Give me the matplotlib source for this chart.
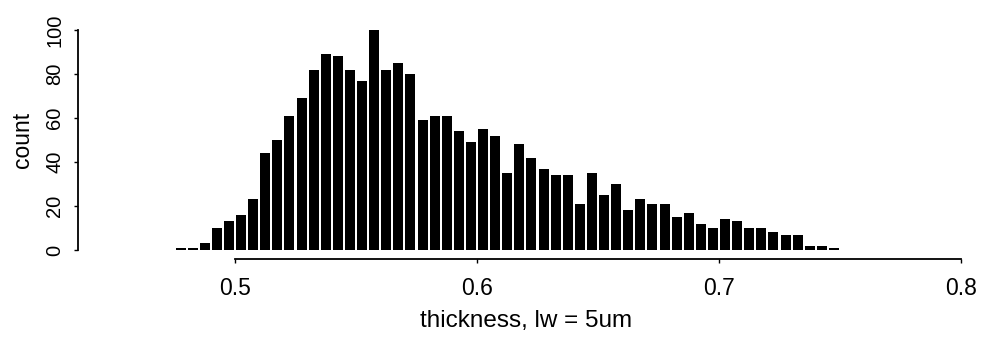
import matplotlib
matplotlib.use("Agg")
import matplotlib.pyplot as plt

# histogram of thickness, bins 0.005 wide (bin centres)
bin_centers = [0.4775, 0.4825, 0.4875, 0.4925, 0.4975, 0.5025, 0.5075, 0.5125,
               0.5175, 0.5225, 0.5275, 0.5325, 0.5375, 0.5425, 0.5475, 0.5525,
               0.5575, 0.5625, 0.5675, 0.5725, 0.5775, 0.5825, 0.5875, 0.5925,
               0.5975, 0.6025, 0.6075, 0.6125, 0.6175, 0.6225, 0.6275, 0.6325,
               0.6375, 0.6425, 0.6475, 0.6525, 0.6575, 0.6625, 0.6675, 0.6725,
               0.6775, 0.6825, 0.6875, 0.6925, 0.6975, 0.7025, 0.7075, 0.7125,
               0.7175, 0.7225, 0.7275, 0.7325, 0.7375, 0.7425, 0.7475]
counts = [1, 1, 3, 10, 13, 16, 23, 44, 50, 61, 69, 82, 89, 88, 82, 77,
          100, 82, 85, 80, 59, 61, 61, 54, 49, 55, 52, 35, 48, 42, 37, 34,
          34, 21, 35, 25, 30, 18, 23, 21, 21, 15, 17, 12, 10, 14, 13, 10,
          10, 8, 7, 7, 2, 2, 1]

x_ticks = [0.5, 0.6, 0.7, 0.8]
x_tick_labels = ["0.5", "0.6", "0.7", "0.8"]
y_ticks = [0, 20, 40, 60, 80, 100]

plt.rcParams["font.family"] = ["Liberation Sans", "DejaVu Sans"]

W, H = 982, 339
fig = plt.figure(figsize=(W / 100, H / 100), dpi=100)

# axes box in pixels: left 78, right 975, top 20, bottom 259
left, right, top, bottom = 78, 975, 20, 259
ax = fig.add_axes([left / W, (H - bottom) / H, (right - left) / W, (bottom - top) / H])

px_per_x = (961 - 235) / 0.3
px_per_y = (250 - 30) / 100.0
ax.set_xlim(0.5 - (235 - left) / px_per_x, 0.8 + (right - 961) / px_per_x)
ax.set_ylim(-(bottom - 250) / px_per_y, 100 + (30 - top) / px_per_y)

ax.bar(bin_centers, counts, width=0.0041, color="black", linewidth=0)

for s in ["top", "right"]:
    ax.spines[s].set_visible(False)
ax.spines["bottom"].set_bounds(0.5, 0.8)
ax.spines["left"].set_bounds(0, 100)
ax.spines["bottom"].set_linewidth(1.3)
ax.spines["left"].set_linewidth(1.3)

ax.set_xticks(x_ticks)
ax.set_xticklabels(x_tick_labels, fontsize=16.5)
ax.set_yticks(y_ticks)
ax.set_yticklabels([str(v) for v in y_ticks], rotation=90, va="center", fontsize=14.5)
ax.tick_params(axis="both", length=3, width=1.0, color="black")
ax.tick_params(axis="x", pad=10)
ax.tick_params(axis="y", pad=7)

ax.set_xlabel("thickness, lw = 5um", fontsize=17.5, labelpad=7)
ax.set_ylabel("count", fontsize=16.5, labelpad=8)

fig.savefig("out.png", dpi=100)
